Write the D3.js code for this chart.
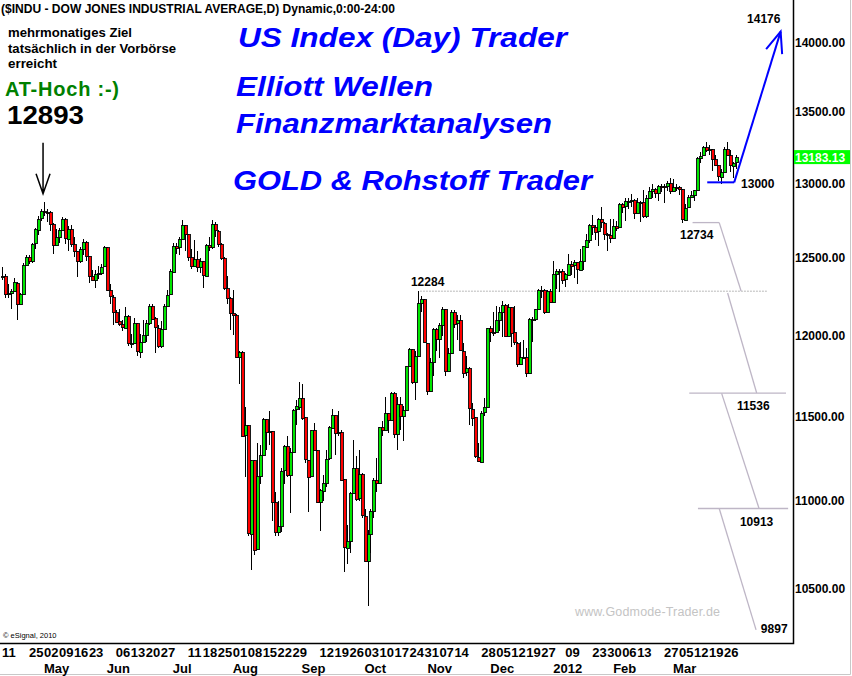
<!DOCTYPE html>
<html>
<head>
<meta charset="utf-8">
<script src="https://cdn.jsdelivr.net/npm/d3@7"></script>
<style>
body { margin: 0; background: #fff; }
svg { display: block; font-family: "Liberation Sans", Arial, sans-serif; }
</style>
</head>
<body>
<svg width="852" height="676"></svg>
<script>
// daily candles $INDU, 11 Apr 2011 .. 30 Mar 2012 : [open, high, low, close]
var ohlc = [
	// Apr
	[12380,12440,12357,12381],[12380,12395,12240,12263],[12263,12330,12240,12270],[12270,12300,12170,12285],
	[12285,12370,12280,12342],[12340,12345,12099,12201],[12201,12275,12195,12266],[12266,12465,12266,12453],
	[12453,12520,12445,12505],[12505,12520,12460,12480],[12480,12600,12470,12595],[12595,12700,12560,12690],
	[12690,12780,12650,12763],[12763,12830,12750,12811],
	// May
	[12811,12876,12780,12808],[12808,12830,12740,12807],[12807,12815,12680,12724],[12724,12735,12528,12585],
	[12585,12690,12580,12639],[12639,12700,12600,12685],[12685,12775,12680,12761],[12761,12770,12590,12631],
	[12631,12710,12548,12696],[12696,12720,12575,12596],[12596,12640,12508,12548],[12548,12550,12376,12480],
	[12480,12575,12470,12561],[12561,12625,12520,12606],[12606,12610,12480,12513],[12513,12515,12337,12381],
	[12381,12420,12350,12356],[12356,12420,12305,12395],[12395,12450,12360,12403],[12403,12460,12390,12442],
	[12442,12580,12442,12570],
	// Jun
	[12570,12575,12285,12291],[12291,12330,12200,12249],[12249,12260,12070,12152],[12152,12160,12080,12090],
	[12090,12170,12060,12071],[12071,12100,12030,12049],[12049,12183,12040,12125],[12125,12130,11935,11952],
	[11952,12010,11920,11953],[11953,12110,11950,12077],[12077,12080,11872,11898],[11898,12010,11860,11962],
	[11962,12100,11960,12004],[12004,12100,11960,12081],[12081,12200,12070,12191],[12191,12200,12100,12110],
	[12110,12115,11890,12050],[12050,12070,11920,11934],[11934,12090,11920,12043],[12043,12200,12040,12188],
	[12188,12290,12180,12262],[12262,12430,12260,12414],
	// Jul
	[12414,12600,12410,12583],[12583,12600,12530,12570],[12570,12640,12520,12626],[12626,12753,12620,12719],
	[12719,12720,12550,12657],[12657,12660,12480,12505],[12505,12560,12430,12447],[12447,12620,12440,12492],
	[12492,12550,12410,12437],[12437,12500,12400,12479],[12479,12480,12305,12385],[12385,12595,12385,12587],
	[12587,12640,12550,12572],[12572,12753,12560,12724],[12724,12740,12640,12681],[12681,12685,12570,12592],
	[12592,12600,12490,12501],[12501,12505,12290,12302],[12302,12380,12200,12240],[12240,12245,12035,12143],
	// Aug
	[12143,12290,12003,12133],[12133,12135,11860,11867],[11867,11905,11700,11897],[11897,11900,11383,11384],
	[11384,11557,11138,11445],[11445,11445,10800,10810],[10810,11240,10604,11239],[11239,11240,10690,10720],
	[10720,11340,10720,11143],[11143,11330,11100,11269],[11269,11490,11260,11482],[11482,11485,11300,11405],
	[11405,11530,11330,11410],[11410,11410,10883,10990],[10990,11050,10800,10817],[10817,11000,10800,10854],
	[10854,11190,10820,11176],[11176,11330,11100,11320],[11320,11380,11140,11149],[11149,11310,10930,11284],
	[11284,11545,11284,11539],[11539,11600,11450,11560],[11560,11710,11540,11613],
	// Sep
	[11613,11700,11480,11493],[11493,11495,11220,11240],[11240,11240,10935,11139],[11139,11420,11139,11415],
	[11415,11460,11290,11295],[11295,11300,10990,10992],[10992,11070,10825,11061],[11061,11150,11000,11105],
	[11105,11300,11080,11246],[11246,11440,11240,11433],[11433,11545,11430,11509],[11509,11510,11270,11401],
	[11401,11530,11380,11408],[11408,11420,11120,11124],[11124,11125,10595,10733],[10733,10860,10640,10771],
	[10771,11050,10700,11044],[11044,11360,11040,11190],[11190,11260,11000,11011],[11011,11300,11000,11153],
	[11153,11160,10900,10913],
	// Oct
	[10913,10950,10650,10655],[10655,10830,10404,10809],[10809,10950,10700,10940],[10940,11130,10900,11123],
	[11123,11250,11050,11103],[11103,11435,11103,11433],[11433,11470,11380,11416],[11416,11620,11410,11518],
	[11518,11520,11400,11478],[11478,11650,11478,11644],[11644,11650,11370,11397],[11397,11620,11300,11577],
	[11577,11620,11420,11505],[11505,11560,11350,11541],[11541,11810,11541,11809],[11809,11920,11800,11913],
	[11913,11915,11700,11707],[11707,11900,11600,11869],[11869,12284,11869,12208],[12208,12250,12150,12231],
	[12231,12232,11955,11955],
	// Nov
	[11955,11955,11630,11657],[11657,11860,11657,11836],[11836,12050,11750,12044],[12044,12050,11900,11983],
	[11983,12080,11860,12069],[12069,12185,12000,12170],[12170,12170,11750,11780],[11780,11920,11780,11893],
	[11893,12160,11893,12153],[12153,12160,12050,12079],[12079,12130,11970,12096],[12096,12130,11900,11905],
	[11905,11950,11735,11770],[11770,11870,11750,11796],[11796,11800,11450,11547],[11547,11580,11440,11493],
	[11493,11495,11250,11257],[11257,11340,11231,11231],[11231,11530,11231,11523],[11523,11610,11500,11556],
	[11556,12050,11556,12046],
	// Dec
	[12046,12060,11960,12020],[12020,12150,12000,12019],[12019,12190,12019,12098],[12098,12180,12030,12150],
	[12150,12220,11990,12196],[12196,12200,11990,11997],[11997,12200,11997,12184],[12184,12185,11930,12021],
	[12021,12190,11940,11955],[11955,11960,11800,11824],[11824,11960,11820,11868],[11868,11970,11860,11866],
	[11866,11920,11740,11766],[11766,12110,11766,12103],[12103,12120,11960,12107],[12107,12170,12090,12169],
	[12169,12295,12169,12294],[12294,12320,12240,12291],[12291,12300,12140,12151],[12151,12290,12151,12288],
	[12288,12300,12210,12218],
	// Jan 2012
	[12218,12480,12218,12398],[12398,12430,12300,12418],[12418,12430,12280,12416],[12416,12430,12330,12360],
	[12360,12400,12310,12393],[12393,12530,12393,12462],[12462,12480,12390,12449],[12449,12490,12370,12471],
	[12471,12475,12330,12422],[12422,12560,12420,12482],[12482,12580,12420,12578],[12578,12660,12570,12623],
	[12623,12725,12600,12720],[12720,12790,12650,12709],[12709,12720,12620,12675],[12675,12770,12580,12757],
	[12757,12840,12700,12734],[12734,12740,12620,12660],[12660,12665,12550,12653],[12653,12760,12600,12633],
	// Feb
	[12633,12760,12633,12716],[12716,12750,12680,12705],[12705,12870,12705,12862],[12862,12870,12800,12845],
	[12845,12900,12750,12879],[12879,12900,12830,12884],[12884,12930,12840,12890],[12890,12892,12760,12801],
	[12801,12900,12800,12874],[12874,12885,12740,12878],[12878,12960,12770,12781],[12781,12920,12770,12904],
	[12904,12980,12900,12950],[12950,13000,12900,12966],[12966,12970,12900,12938],[12938,12990,12880,12984],
	[12984,13000,12940,12983],[12983,13000,12870,12982],[12982,13020,12950,13005],[13005,13040,12930,12952],
	// Mar
	[12952,13030,12952,12980],[12980,13000,12950,12978],[12978,12985,12920,12962],[12962,12962,12734,12759],
	[12759,12860,12759,12837],[12837,12920,12837,12907],[12907,12950,12907,12922],[12922,12960,12880,12959],
	[12959,13185,12955,13177],[13177,13220,13140,13194],[13194,13260,13190,13252],[13252,13290,13220,13233],
	[13233,13270,13200,13239],[13239,13240,13090,13170],[13170,13200,13120,13125],[13125,13125,13020,13046],
	[13046,13100,13000,13081],[13081,13250,13081,13241],[13241,13290,13190,13197],[13197,13230,13080,13126],
	[13126,13150,13040,13145],[13145,13200,13100,13183.13]
];

// week labels (candle index, text) and month labels
var weekTicks = [[0,"11"],[9,"25"],[14,"02"],[19,"09"],[24,"16"],[29,"23"],[38,"06"],[43,"13"],[48,"20"],[53,"27"],
	[62,"11"],[67,"18"],[72,"25"],[77,"01"],[82,"08"],[87,"15"],[92,"22"],[97,"29"],[106,"12"],[111,"19"],
	[116,"26"],[121,"03"],[126,"10"],[131,"17"],[136,"24"],[141,"31"],[146,"07"],[151,"14"],[160,"28"],[165,"05"],
	[170,"12"],[175,"19"],[180,"27"],[188,"09"],[197,"23"],[202,"30"],[207,"06"],[212,"13"],[221,"27"],[226,"05"],
	[231,"12"],[236,"19"],[241,"26"]];
var monthTicks = [[14,"May"],[35,"Jun"],[57,"Jul"],[77,"Aug"],[100,"Sep"],[121,"Oct"],[142,"Nov"],[163,"Dec"],
	[184,"2012"],[204,"Feb"],[224,"Mar"]];
var priceTicks = [14000, 13500, 13000, 12500, 12000, 11500, 11000, 10500];
var lastPrice = 13183.13;

// hand drawn levels: value, candle index of label, label offset
var levelNotes = [[14176, 248.7, 4], [13000, 246.7, 4], [12734, 226.3, 16], [12284, 136.5, -5],
	[11536, 245.3, 0], [10913, 246.3, 10], [9897, 253.3, 4]];
// grey projection lines [index, price]
var projLines = [
	[[230.5,12736],[239.4,12736]], [[239.4,12736],[246.7,12285]],
	[[242.2,12272],[251.9,11642]], [[229.4,11642],[261.7,11642]],
	[[240.2,11640],[252.7,10955]], [[232.3,10955],[262.4,10955]],
	[[239.4,10955],[251.7,10276]]
];
var dottedLine = [[139.5,12284],[255.3,12284]];
var blueLines = [[[235.4,13009],[244.4,13009]], [[244.4,13009],[259.9,14084]]];

var svg = d3.select("svg"),
	width = +svg.attr("width"),
	height = +svg.attr("height"),
	plotRight = 793,
	plotBottom = 643,
	green = "#00e600",
	red = "#ff0000";

var x = d3.scaleLinear().domain([0, ohlc.length - 1]).range([2, 736]);
var y = d3.scaleLog().domain([10500, 14000]).range([589, 43]);

svg.append("rect").attr("width", width).attr("height", height).attr("fill", "#fff");

// outer grey window border
svg.append("path")
	.attr("d", "M850.5,0V674.5H0")
	.attr("fill", "none")
	.attr("stroke", "#c8c8c8");

// watermark
svg.append("text")
	.attr("x", 575).attr("y", 616)
	.attr("font-size", "12.5px")
	.attr("fill", "#c4c4c4")
	.attr("textLength", 145)
	.text("www.Godmode-Trader.de");

// grey projections
var line = d3.line()
	.x(function (d) { return x(d[0]); })
	.y(function (d) { return y(d[1]); });

svg.append("path")
	.attr("d", line(dottedLine))
	.attr("fill", "none")
	.attr("stroke", "#b8b8b8")
	.attr("stroke-dasharray", "2,1");

svg.append("g").selectAll("path")
	.data(projLines)
	.enter().append("path")
	.attr("d", line)
	.attr("fill", "none")
	.attr("stroke", "#beb6c6")
	.attr("stroke-width", 1.3);

// candles
var candle = svg.append("g")
	.attr("shape-rendering", "crispEdges")
	.selectAll("g")
	.data(ohlc)
	.enter().append("g");

candle.append("line")
	.attr("x1", function (d, i) { return Math.round(x(i)) + 0.5; })
	.attr("x2", function (d, i) { return Math.round(x(i)) + 0.5; })
	.attr("y1", function (d) { return y(d[1]); })
	.attr("y2", function (d) { return y(d[2]); })
	.attr("stroke", "#000");

candle.append("rect")
	.attr("x", function (d, i) { return Math.round(x(i)) - 0.5; })
	.attr("y", function (d) { return Math.round(y(Math.max(d[0], d[3]))) + 0.5; })
	.attr("width", 2.5)
	.attr("height", function (d) {
		return Math.max(1, Math.round(Math.abs(y(d[0]) - y(d[3]))));
	})
	.attr("fill", function (d) { return d[3] >= d[0] ? green : red; })
	.attr("stroke", "#000")
	.attr("stroke-width", 0.9);

// blue target arrow
svg.append("g").selectAll("path")
	.data(blueLines)
	.enter().append("path")
	.attr("d", line)
	.attr("fill", "none")
	.attr("stroke", "#0000ff")
	.attr("stroke-width", 2);
var tip = blueLines[1][1];
svg.append("path")
	.attr("d", "M" + (x(tip[0]) - 14.5) + "," + (y(tip[1]) + 17.5) + "L" + x(tip[0]) + "," + y(tip[1]) +
		"L" + (x(tip[0]) + 1.5) + "," + (y(tip[1]) + 22.5))
	.attr("fill", "none")
	.attr("stroke", "#0000ff")
	.attr("stroke-width", 2);

// black arrow to the May high
var hi = ohlc[14];
svg.append("path")
	.attr("d", "M" + x(13.7) + "," + (y(hi[1]) - 59) + "V" + (y(hi[1]) - 8) +
		"M" + (x(13.7) - 7) + "," + (y(hi[1]) - 28) + "L" + x(13.7) + "," + (y(hi[1]) - 8) +
		"L" + (x(13.7) + 7) + "," + (y(hi[1]) - 28))
	.attr("fill", "none")
	.attr("stroke", "#000")
	.attr("stroke-width", 1.5);

// level labels
svg.append("g").selectAll("text")
	.data(levelNotes)
	.enter().append("text")
	.attr("x", function (d) { return x(d[1]); })
	.attr("y", function (d) { return Math.min(y(d[0]), 629) + d[2]; })
	.attr("font-size", "12px")
	.attr("font-weight", "bold")
	.attr("fill", "#000")
	.text(function (d) { return d[0]; });

// frame
svg.append("path")
	.attr("d", "M0," + (plotBottom + 0.5) + "H" + (plotRight + 0.5) + "V0")
	.attr("fill", "none")
	.attr("stroke", "#000")
	.attr("stroke-width", 1.5);

// right price axis
var yAxis = svg.append("g")
	.attr("transform", "translate(" + plotRight + ",0)")
	.call(d3.axisRight(y).tickValues(priceTicks).tickFormat(d3.format(".2f")).tickSize(0).tickPadding(2));
yAxis.select(".domain").remove();
yAxis.selectAll("text")
	.attr("font-family", "Liberation Sans, Arial, sans-serif")
	.attr("font-size", "12px")
	.attr("font-weight", "bold")
	.attr("fill", "#000");

// last price tag
svg.append("rect")
	.attr("x", plotRight + 1).attr("y", y(lastPrice) - 7)
	.attr("width", 56).attr("height", 14)
	.attr("fill", "#00ff00");
svg.append("text")
	.attr("x", plotRight + 2).attr("y", y(lastPrice) + 4.5)
	.attr("font-size", "12px")
	.attr("font-weight", "bold")
	.attr("fill", "#fff")
	.text(d3.format(".2f")(lastPrice));

// bottom time axis
svg.append("g").selectAll("text")
	.data(weekTicks)
	.enter().append("text")
	.attr("x", function (d) { return x(d[0]); })
	.attr("y", 657)
	.attr("font-size", "13px")
	.attr("font-weight", "bold")
	.text(function (d) { return d[1]; });

svg.append("g").selectAll("text")
	.data(monthTicks)
	.enter().append("text")
	.attr("x", function (d) { return x(d[0]); })
	.attr("y", 673)
	.attr("font-size", "13px")
	.attr("font-weight", "bold")
	.text(function (d) { return d[1]; });

svg.append("text")
	.attr("x", 3).attr("y", 638)
	.attr("font-size", "7.5px")
	.text("\u00a9 eSignal, 2010");

// header and notes
svg.append("text")
	.attr("x", 1).attr("y", 13)
	.attr("font-size", "12px")
	.attr("font-weight", "bold")
	.attr("textLength", 394)
	.attr("lengthAdjust", "spacingAndGlyphs")
	.text("($INDU - DOW JONES INDUSTRIAL AVERAGE,D) Dynamic,0:00-24:00");

var notes = [["mehrmonatiges Ziel", 37, 124], ["tatsächlich in der Vorbörse", 52.5, 168], ["erreicht", 68, 49]];
svg.append("g").selectAll("text")
	.data(notes)
	.enter().append("text")
	.attr("x", 8)
	.attr("y", function (d) { return d[1]; })
	.attr("font-size", "12.5px")
	.attr("font-weight", "bold")
	.attr("textLength", function (d) { return d[2]; })
	.attr("lengthAdjust", "spacingAndGlyphs")
	.text(function (d) { return d[0]; });

svg.append("text")
	.attr("x", 5).attr("y", 96)
	.attr("font-size", "20px")
	.attr("font-weight", "bold")
	.attr("fill", "#008000")
	.attr("textLength", 114)
	.text("AT-Hoch :-)");

svg.append("text")
	.attr("x", 7).attr("y", 124)
	.attr("font-size", "25px")
	.attr("font-weight", "bold")
	.attr("textLength", 77)
	.attr("lengthAdjust", "spacingAndGlyphs")
	.text("12893");

var titles = [["US Index (Day) Trader", 238, 47, 329], ["Elliott Wellen", 236, 96, 197],
	["Finanzmarktanalysen", 236, 133, 316], ["GOLD & Rohstoff Trader", 233, 190, 359]];
svg.append("g").selectAll("text")
	.data(titles)
	.enter().append("text")
	.attr("x", function (d) { return d[1]; })
	.attr("y", function (d) { return d[2]; })
	.attr("font-size", "27px")
	.attr("font-weight", "bold")
	.attr("font-style", "italic")
	.attr("fill", "#0000ff")
	.attr("textLength", function (d) { return d[3]; })
	.attr("lengthAdjust", "spacingAndGlyphs")
	.text(function (d) { return d[0]; });
</script>
</body>
</html>
